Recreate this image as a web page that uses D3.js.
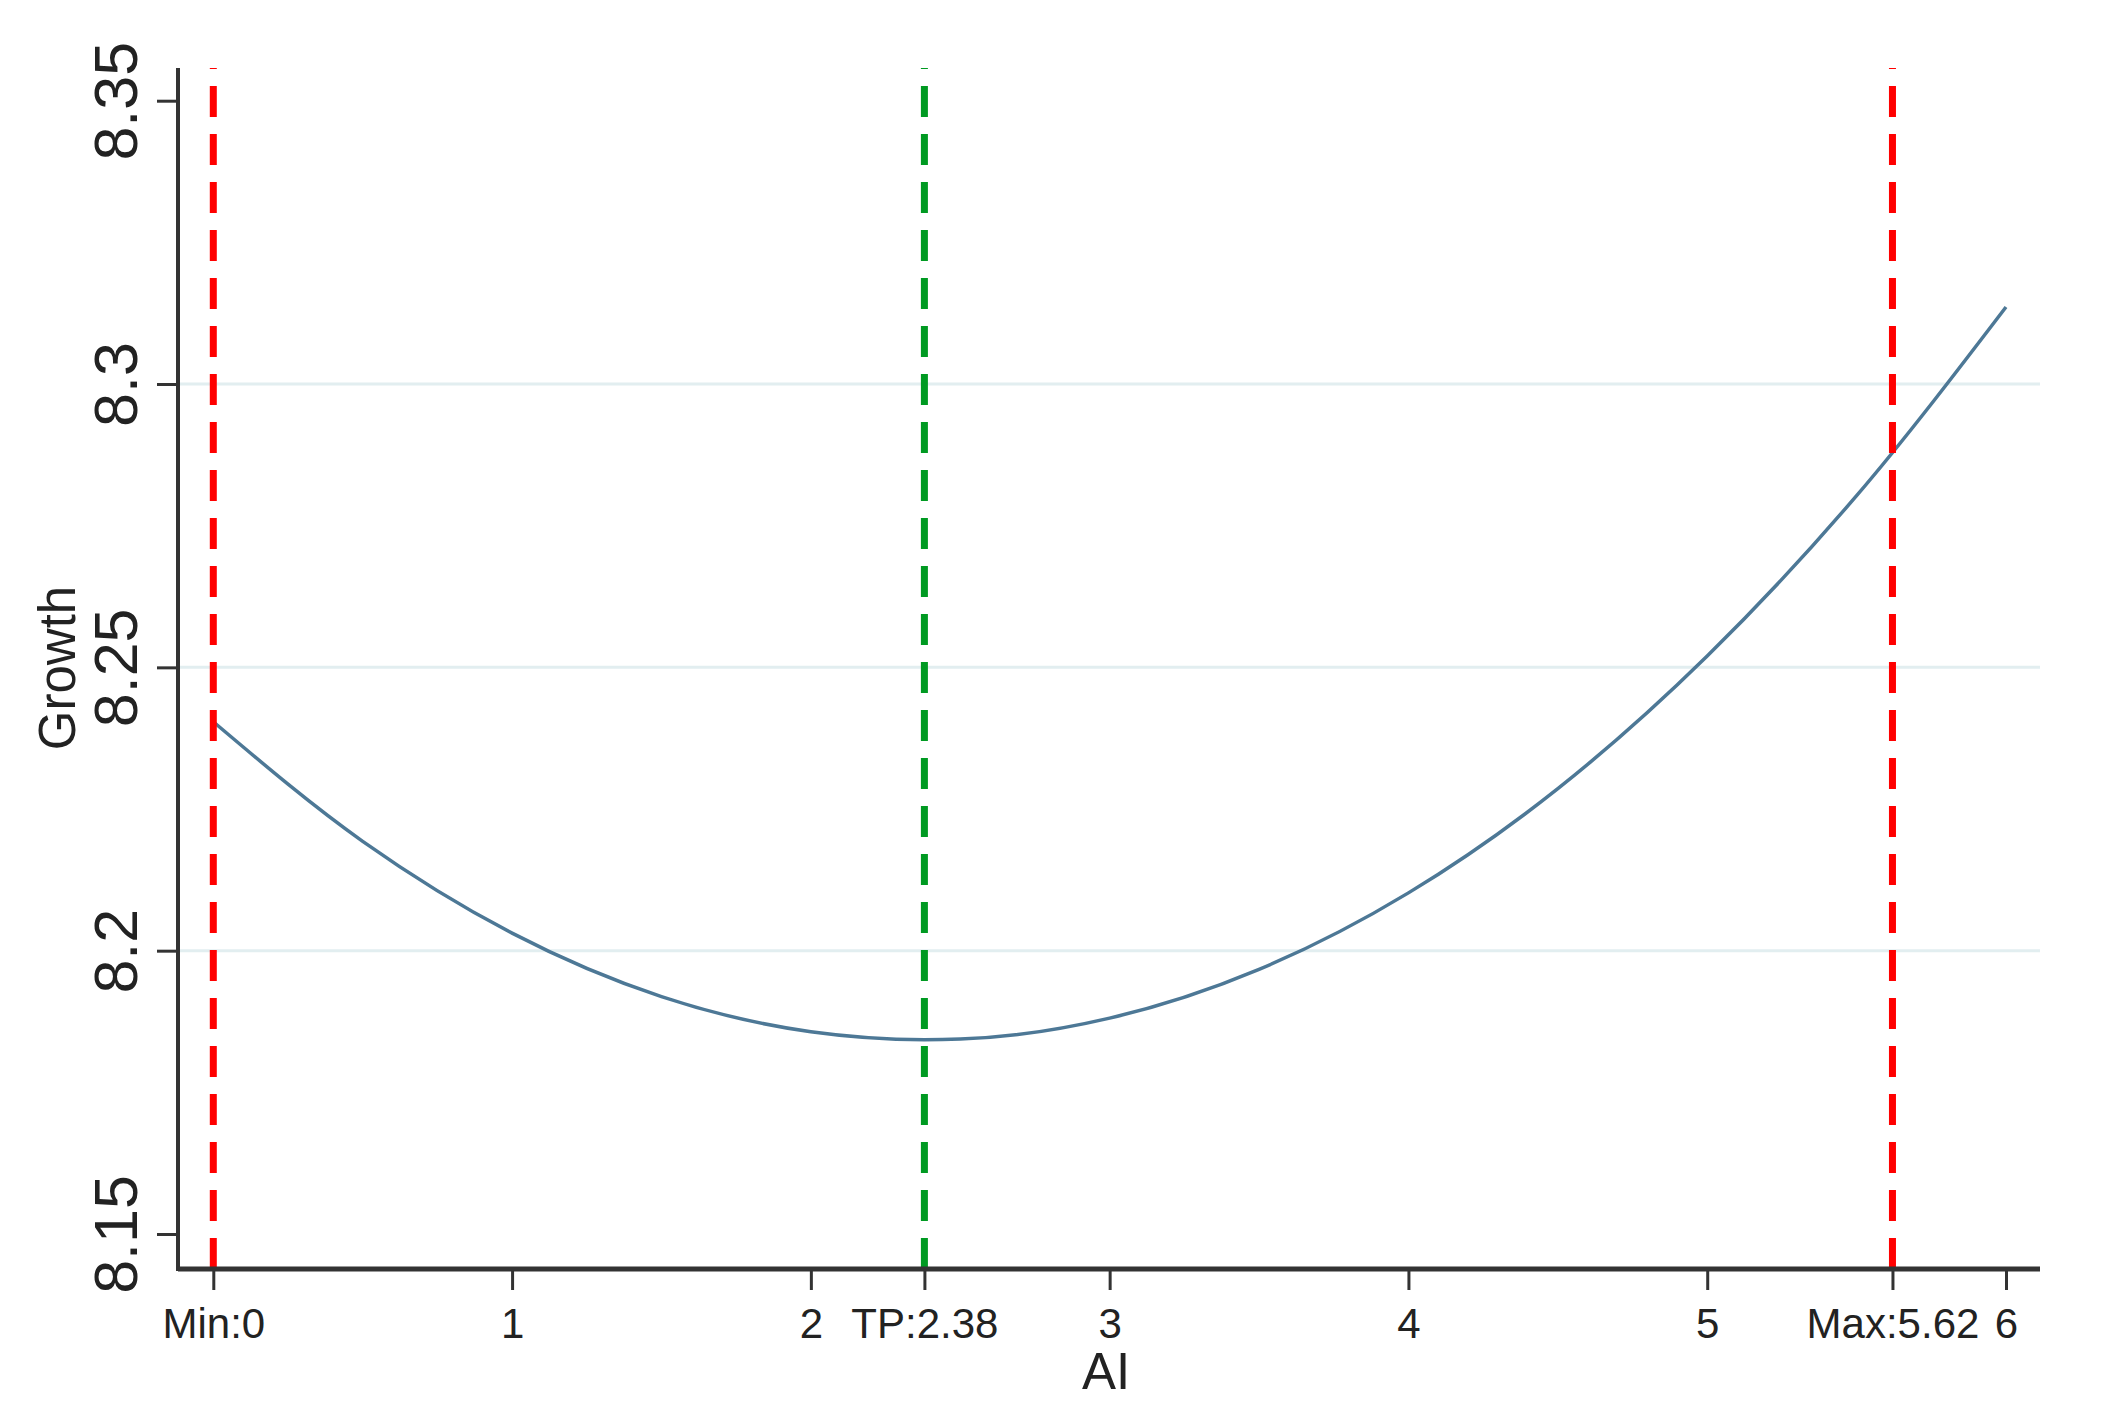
<!DOCTYPE html>
<html>
<head>
<meta charset="utf-8">
<style>
	body { margin: 0; background: #fff; }
	text { font-family: "Liberation Sans", Arial, sans-serif; fill: #222; }
</style>
</head>
<body>
<svg width="2111" height="1419"></svg>
<script src="https://d3js.org/d3.v7.min.js"></script>
<script>

	// curve
	var aiValues = [0, 0.5, 1, 1.5, 2, 2.38, 2.5, 3, 3.5, 4, 4.5, 5, 5.5, 6];
	var growthValues = [8.2404, 8.2193, 8.2031, 8.1919, 8.1857, 8.1843, 8.1844, 8.1881, 8.1967, 8.2102, 8.2286, 8.2520, 8.2803, 8.3136];

	var xTickValues = [0, 1, 2, 2.38, 3, 4, 5, 5.62, 6];
	var xTickLabels = ["Min:0", "1", "2", "TP:2.38", "3", "4", "5", "Max:5.62", "6"];
	var yTickValues = [8.15, 8.2, 8.25, 8.3, 8.35];
	var yTickLabels = ["8.15", "8.2", "8.25", "8.3", "8.35"];
	var gridValues = [8.2, 8.25, 8.3];

	var minX = 0, tpX = 2.38, maxX = 5.62;

	var svg = d3.select("svg");

	var plotLeft = 178, plotRight = 2040, plotTop = 68, plotBottom = 1269;

	var x = d3.scaleLinear().domain([0, 6]).range([213.3, 2006]);
	var y = d3.scaleLinear().domain([8.15, 8.35]).range([1234, 100.7]);

	// gridlines
	svg.append("g")
		.selectAll("line")
		.data(gridValues)
		.enter().append("line")
		.attr("x1", plotLeft)
		.attr("x2", plotRight)
		.attr("y1", function (d) { return y(d); })
		.attr("y2", function (d) { return y(d); })
		.attr("stroke", "#e2eef0")
		.attr("stroke-width", 3);

	// fitted curve
	var pts = aiValues.map(function (d, i) { return [d, growthValues[i]]; });
	var line = d3.line()
		.x(function (d) { return x(d[0]); })
		.y(function (d) { return y(d[1]); })
		.curve(d3.curveMonotoneX);

	svg.append("path")
		.datum(pts)
		.attr("d", line)
		.attr("fill", "none")
		.attr("stroke", "#4d7896")
		.attr("stroke-width", 3.5);

	// reference lines (drawn bottom-up so the dash pattern starts at the axis)
	var refs = [
		{ v: minX, color: "#ff0000" },
		{ v: tpX, color: "#009a22" },
		{ v: maxX, color: "#ff0000" }
	];
	svg.append("g")
		.selectAll("line")
		.data(refs)
		.enter().append("line")
		.attr("x1", function (d) { return x(d.v); })
		.attr("x2", function (d) { return x(d.v); })
		.attr("y1", plotBottom)
		.attr("y2", plotTop)
		.attr("stroke", function (d) { return d.color; })
		.attr("stroke-width", 7)
		.attr("stroke-dasharray", "31 17");

	// y axis
	var yAxis = svg.append("g")
		.attr("transform", "translate(" + plotLeft + ",0)")
		.call(d3.axisLeft(y)
			.tickValues(yTickValues)
			.tickFormat(function (d, i) { return yTickLabels[i]; })
			.tickSize(21));
	yAxis.select(".domain").remove();
	yAxis.selectAll(".tick line").attr("stroke", "#333").attr("stroke-width", 3);
	yAxis.selectAll(".tick text")
		.attr("x", 0)
		.attr("y", -41)
		.attr("dy", 0)
		.attr("transform", "rotate(-90)")
		.attr("text-anchor", "middle")
		.attr("font-size", 61)
		.attr("fill", "#222");

	// x axis
	var xAxis = svg.append("g")
		.attr("transform", "translate(0," + plotBottom + ")")
		.call(d3.axisBottom(x)
			.tickValues(xTickValues)
			.tickFormat(function (d, i) { return xTickLabels[i]; })
			.tickSize(21));
	xAxis.select(".domain").remove();
	xAxis.selectAll(".tick line").attr("stroke", "#333").attr("stroke-width", 3);
	xAxis.selectAll(".tick text")
		.attr("y", 69)
		.attr("dy", 0)
		.attr("font-size", 42)
		.attr("fill", "#222");

	// axis lines
	svg.append("line")
		.attr("x1", plotLeft).attr("x2", plotLeft)
		.attr("y1", plotTop).attr("y2", plotBottom + 2)
		.attr("stroke", "#333").attr("stroke-width", 4);
	svg.append("line")
		.attr("x1", plotLeft).attr("x2", plotRight)
		.attr("y1", plotBottom).attr("y2", plotBottom)
		.attr("stroke", "#333").attr("stroke-width", 5);

	// titles
	svg.append("text")
		.attr("transform", "translate(75,668) rotate(-90)")
		.attr("text-anchor", "middle")
		.attr("font-size", 51)
		.text("Growth");

	svg.append("text")
		.attr("x", 1106)
		.attr("y", 1389)
		.attr("text-anchor", "middle")
		.attr("font-size", 51)
		.text("AI");

</script>
</body>
</html>
